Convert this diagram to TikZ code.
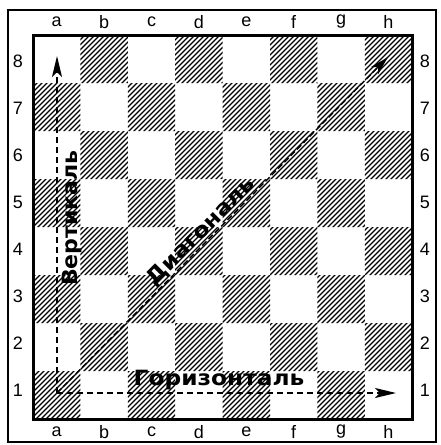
\documentclass[tikz,border=0pt]{standalone}
\usepackage{fontspec}
\setmainfont{Liberation Sans}
\newfontfamily\lblfont{DejaVu Sans}
\usetikzlibrary{arrows.meta}
\tikzset{
  coordlbl/.style={font=\fontsize{18}{18}\selectfont, inner sep=0pt},
  biglbl/.style={font=\lblfont\bfseries\fontsize{21}{21}\selectfont, inner sep=0pt},
  hatchline/.style={line width=1.25pt, black},
  arr/.style={line width=2pt, dash pattern=on 6pt off 4pt, -{Stealth[length=21pt,width=10pt,inset=5pt]}},
  diagarr/.style={line width=1.4pt, dash pattern=on 6pt off 3pt, -{Stealth[length=19pt,width=10pt,inset=5pt]}},
}
\begin{document}
\begin{tikzpicture}[x=1pt,y=-1pt]
\useasboundingbox (0,0) rectangle (441,445);
\fill[white] (0,0) rectangle (441,445);
% hatched dark squares
\begin{scope}
\clip \foreach \r in {1,3,5,7} {\foreach \c in {0,2,4,6} {({33+\c*47.4},{35+(8-\r)*48}) rectangle ++(47.4,48)}}
      \foreach \r in {2,4,6,8} {\foreach \c in {1,3,5,7} {({33+\c*47.4},{35+(8-\r)*48}) rectangle ++(47.4,48)}};
\foreach \k in {-460,-455,...,460} \draw[hatchline] (\k,440) -- ++(440,-440);
\end{scope}
% frames
\draw[line width=3pt] (33,35) rectangle (412.2,419);
\draw[line width=1.8pt] (8,10) rectangle (436,442);
% coordinates labels
\foreach \l [count=\i from 0] in {a,b,c,d,e,f,g,h} {
  \node[coordlbl] (top\l) at ({56.7+\i*47.4}, 22) {\l};
  \node[coordlbl] (bot\l) at ({56.7+\i*47.4}, 432) {\l};
}
\foreach \n in {1,...,8} {
  \node[coordlbl] (left\n) at (18, {61+(8-\n)*47}) {\n};
  \node[coordlbl] (right\n) at (425, {61+(8-\n)*47}) {\n};
}
% arrows
\coordinate (o) at (57,393);
\coordinate (vt) at (57,56);
\coordinate (ht) at (396,393);
\coordinate (dt) at (388,57);
\draw[arr] (o) -- (vt);
\draw[arr] (o) -- (ht);
\draw[diagarr] (o) -- (dt);
% big labels
\node[biglbl, rotate=90] (vert) at (72,218) {\scalebox{1.05}[1]{Вертикаль}};
\node[biglbl] (hor) at (219,380) {\scalebox{1.11}[1]{Горизонталь}};
\node[biglbl, rotate=45] (diag) at (201,232) {\scalebox{1.1}[1]{Диагональ}};
\end{tikzpicture}
\end{document}
